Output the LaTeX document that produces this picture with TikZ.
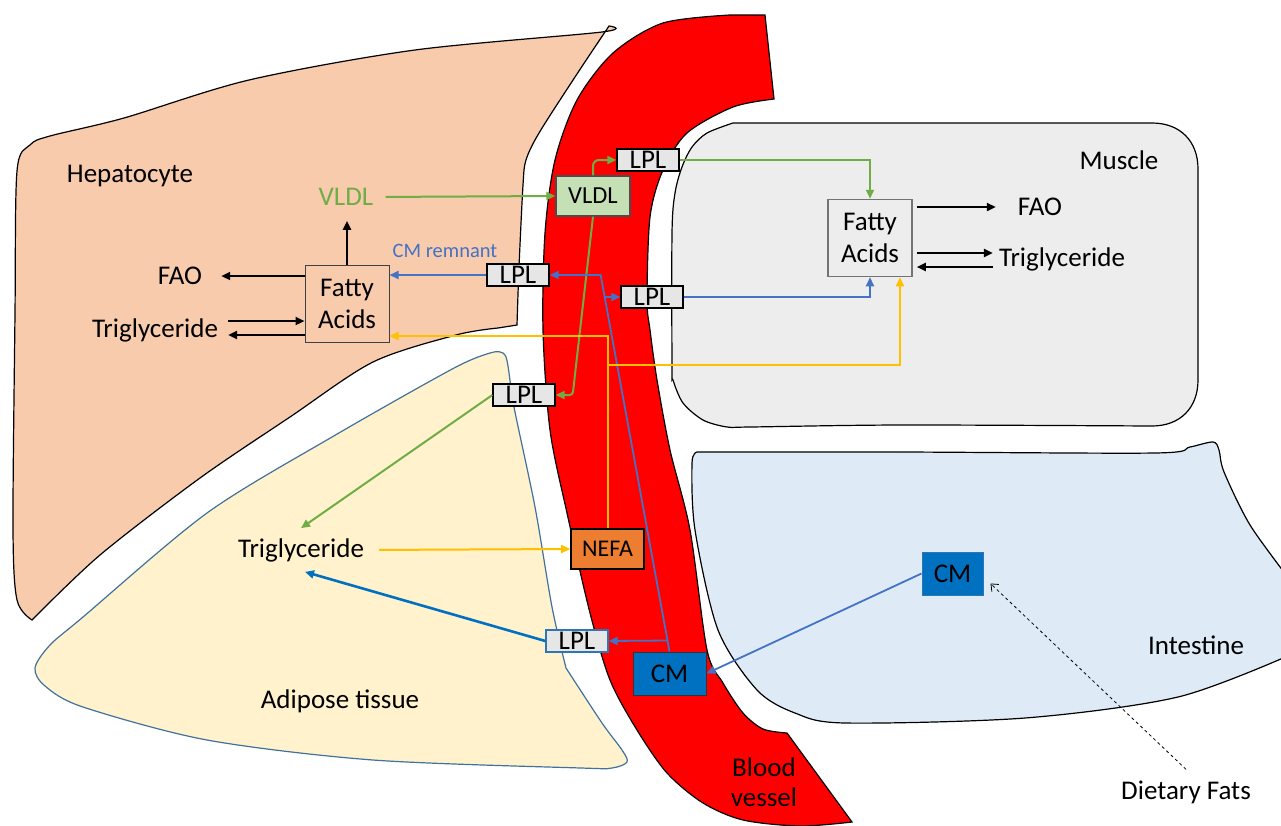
\documentclass[tikz,border=0pt]{standalone}
\usepackage{fontspec}
\setmainfont{Carlito}
\usetikzlibrary{arrows.meta,calc}

\definecolor{hepfill}{HTML}{F8CBAD}
\definecolor{musfill}{HTML}{EDEDED}
\definecolor{intfill}{HTML}{DEEBF7}
\definecolor{adifill}{HTML}{FFF2CC}
\definecolor{adiedge}{HTML}{41719C}
\definecolor{vessel}{HTML}{FF0000}
\definecolor{lplgray}{HTML}{E7E6E6}
\definecolor{lplblue}{HTML}{2E75B6}
\definecolor{vldlfill}{HTML}{C5E0B4}
\definecolor{nefafill}{HTML}{ED7D31}
\definecolor{cmfill}{HTML}{0070C0}
\definecolor{vgreen}{HTML}{70AD47}
\definecolor{cmblue}{HTML}{4472C4}
\definecolor{fayellow}{HTML}{FFC000}

\begin{document}
\begin{tikzpicture}[x=1pt,y=-1pt,
    every node/.style={font=\fontsize{27}{32}\selectfont},
    lbl/.style={inner sep=1pt},
    lplbox/.style={draw=black,line width=1.3pt,fill=lplgray,minimum width=62pt,minimum height=22pt,inner sep=0pt},
    fabox/.style={draw=black!75,line width=1pt,minimum width=84pt,minimum height=77pt,inner sep=0pt,align=center},
    cmbox/.style={draw=black!80,line width=1pt,fill=cmfill,minimum width=73pt,minimum height=43pt,inner sep=0pt},
    head/.style={-{Triangle[length=9pt,width=8pt]}},
    blk/.style={head,line width=2.2pt},
    grn/.style={head,draw=vgreen,line width=2pt},
    blu/.style={head,draw=cmblue,line width=1.8pt},
    ylw/.style={head,draw=fayellow,line width=2pt}]
\useasboundingbox (0,0) rectangle (1281,825);

% tissues
\draw[fill=hepfill,line width=1.2pt] (32,620) -- plot[smooth] coordinates {(32,620) (17,600) (13,529) (15,314) (17,171) (30,145) (50,136) (124,118) (249,80) (415,50) (602,32) (609,26)}
    -- plot[smooth] coordinates {(609,26) (575,77) (539,133) (526,160) (523,185) (519,267) (517,325)}
    -- (498,328) -- plot[smooth] coordinates {(498,328) (456,335) (373,362) (290,417) (200,478) (100,555) (32,620)} -- cycle;
\draw[fill=adifill,draw=adiedge,line width=1.2pt] plot[smooth] coordinates {(494,352) (506,357) (514,407) (535,507) (552,607) (566,668)}
    -- plot[smooth] coordinates {(566,668) (602,723) (622,750) (627,762) (612,768) (581,768) (373,760) (207,740) (83,707) (45,686) (35,668) (50,645) (83,617) (207,513) (332,437) (456,367) (494,352)} -- cycle;
\draw[fill=vessel,line width=1.2pt] (765,15) -- plot[smooth] coordinates {(730,15) (663,23) (613,53) (577,100) (555,160) (545,233) (543,330) (550,430) (567,513) (590,613) (610,680) (637,730) (667,773) (703,803) (743,820) (800,826) (852,822)}
    -- (787,733) -- plot[smooth] coordinates {(787,733) (763,729) (743,713) (723,683) (707,650) (690,530) (670,450) (657,380) (650,330) (647,300) (650,217) (663,170) (687,133) (733,107) (774,99)} -- cycle;
\draw[fill=musfill,line width=1.2pt] (733,123) -- (1152,123) .. controls (1180,123) and (1198,141) .. (1198,169) -- (1198,380) .. controls (1198,408) and (1180,426) .. (1152,426)
    -- plot[smooth] coordinates {(1152,426) (900,425) (750,427) (727,427) (703,420) (683,403) (673,380) (672,367) (672,233) (675,193) (682,167) (692,147) (707,133) (733,123)} -- cycle;
\draw[fill=intfill,line width=1.2pt] (697,452) -- plot[smooth] coordinates {(697,452) (900,452) (1155,453) (1190,447) (1213,442) (1219,450) (1224,472) (1250,525) (1290,580)}
    -- (1290,655) -- plot[smooth] coordinates {(1290,655) (1178,697) (1025,718) (845,723) (795,713) (757,690) (718,630) (695,530) (692,463) (697,452)} -- cycle;

% hepatocyte
\node[lbl] (hep) at (130,176) {Hepatocyte};
\node[fabox,fill=hepfill] (hfa) at (347,304) {Fatty\\Acids};
\node[lbl,text=vgreen] (hvldl) at (346,197) {VLDL};
\node[lbl] (hfao) at (180,276) {FAO};
\node[lbl] (htg) at (155,330) {Triglyceride};
\node[lbl,text=cmblue,font=\fontsize{20.5}{24}\selectfont] (rem) at (445,251) {CM remnant};

% blood vessel
\node[draw=black!70,line width=1.3pt,fill=vldlfill,minimum width=74pt,minimum height=40pt,inner sep=0pt,font=\fontsize{24.5}{28}\selectfont] (bvldl) at (593,196) {VLDL};
\node[lplbox] (lpla) at (648,160) {LPL};
\node[lplbox] (lplb) at (518,275) {LPL};
\node[lplbox] (lplc) at (652,297) {LPL};
\node[lplbox] (lpld) at (524,395) {LPL};
\node[lplbox,draw=lplblue] (lple) at (577,641) {LPL};
\node[draw=black,line width=1.6pt,fill=nefafill,minimum width=73pt,minimum height=40pt,inner sep=0pt,font=\fontsize{24}{28}\selectfont] (nefa) at (607.5,549) {NEFA};
\node[cmbox] (cmb) at (669.5,673.5) {CM};
\node[lbl,align=center,font=\fontsize{27}{30}\selectfont] (bv) at (764,782) {Blood\\vessel};

% muscle
\node[fabox,fill=musfill,draw=black!55,line width=1.5pt] (mfa) at (870,238) {Fatty\\Acids};
\node[lbl] (mus) at (1119,160) {Muscle};
\node[lbl] (mfao) at (1040,207) {FAO};
\node[lbl] (mtg) at (1062,259) {Triglyceride};

% adipose
\node[lbl] (atg) at (301,550) {Triglyceride};
\node[lbl] (adi) at (340,701) {Adipose tissue};

% intestine
\node[cmbox,draw=lplblue,minimum width=61pt] (cmi) at (952.5,573.5) {CM};
\node[lbl] (int) at (1196,645) {Intestine};
\node[lbl] (diet) at (1186,792) {Dietary Fats};

% liver arrows
\draw[blk,shorten >=14pt] (hfa.north) -- (hfa.north |- hvldl.south);
\draw[blk,shorten >=18pt] (hfa.west |- hfao) -- (hfao.east);
\draw[blk,shorten <=9pt] ([yshift=9pt]htg.east) -- ([yshift=9pt]htg.east -| hfa.west);
\draw[blk,shorten >=9pt] ([yshift=-5pt]htg.east -| hfa.west) -- ([yshift=-5pt]htg.east);
\draw[grn,shorten <=11pt] (hvldl.east) -- (bvldl.west);
\draw[blu] (lplb.west) -- (lplb.west -| hfa.east);

% VLDL
\draw[grn,rounded corners=6pt] (bvldl.north) |- (lpla.west);
\draw[grn] (lpla.east) -| (mfa.north);
\draw[grn,rounded corners=3pt] (bvldl.south) -- ([xshift=17pt]lpld.east) -- (lpld.east);
\draw[grn] (lpld.west) -- ([yshift=9pt]atg.north);

% CM
\coordinate (bend) at ([xshift=51pt]lplb.east);
\draw[blu] (cmb.north) -- (bend) -- (lplb.east);
\draw[blu] ($(bend)!0.0584!(cmb.north)$) -- (lplc.west);
\draw[blu] ($(bend)!0.9708!(cmb.north)$) -- (lple.east);
\draw[blu] (lplc.east) -| (mfa.south);
\draw[head,draw=cmfill,line width=2.6pt] (lple.west) -- ([xshift=4pt,yshift=-9pt]atg.south);
\draw[blu] (cmi.west) -- (cmb.east);
\draw[dashed,-{Straight Barb[length=6pt,width=10pt]},line width=0.8pt] ([yshift=10pt]diet.north) -- ([shift={(7pt,12pt)}]cmi.south east);

% NEFA
\draw[ylw,shorten <=14pt] (atg.east) -- (nefa.west);
\draw[ylw] (nefa.north) |- ([yshift=-32pt]hfa.east);
\coordinate (fork) at (nefa.north |- 0,365);
\draw[ylw] (fork) -| ([xshift=30pt]mfa.south);

% muscle arrows
\draw[blk,shorten <=4pt,shorten >=21pt] (mfa.east |- mfao) -- (mfao.west);
\draw[blk,shorten <=4pt,shorten >=5pt] ([yshift=6pt]mtg.west -| mfa.east) -- ([yshift=6pt]mtg.west);
\draw[blk,shorten <=5pt,shorten >=4pt] ([yshift=-8pt]mtg.west) -- ([yshift=-8pt]mtg.west -| mfa.east);
\end{tikzpicture}
\end{document}
